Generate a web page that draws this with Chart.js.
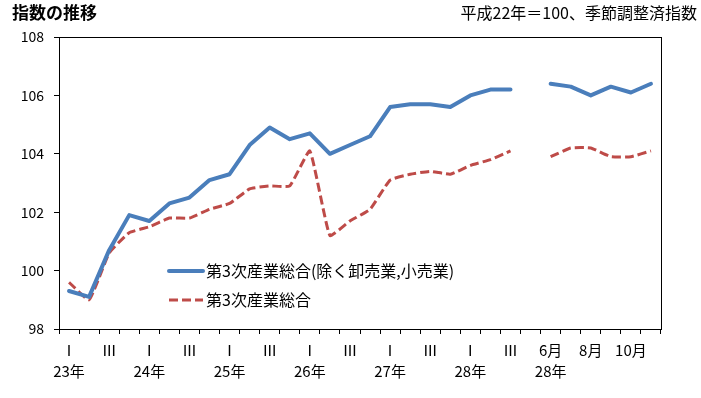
<!DOCTYPE html>
<html>
<head>
<meta charset="utf-8">
<script src="https://cdn.jsdelivr.net/npm/chart.js@4"></script>
<style>
  body { margin: 0; background: #fff; }
  #wrap { width: 701px; height: 398px; position: relative; }
</style>
</head>
<body>
<div id="wrap"><canvas id="line-chart"></canvas></div>
<script>
// categories: quarters 23年Ⅰ-28年Ⅲ, a blank slot, then months 28年6月-11月
var categories = [
    "23年Ⅰ","23年Ⅱ","23年Ⅲ","23年Ⅳ",
    "24年Ⅰ","24年Ⅱ","24年Ⅲ","24年Ⅳ",
    "25年Ⅰ","25年Ⅱ","25年Ⅲ","25年Ⅳ",
    "26年Ⅰ","26年Ⅱ","26年Ⅲ","26年Ⅳ",
    "27年Ⅰ","27年Ⅱ","27年Ⅲ","27年Ⅳ",
    "28年Ⅰ","28年Ⅱ","28年Ⅲ","",
    "28年6月","28年7月","28年8月","28年9月","28年10月","28年11月"
];
var tickLabels = [
    ["Ⅰ","23年"], "", "Ⅲ", "",
    ["Ⅰ","24年"], "", "Ⅲ", "",
    ["Ⅰ","25年"], "", "Ⅲ", "",
    ["Ⅰ","26年"], "", "Ⅲ", "",
    ["Ⅰ","27年"], "", "Ⅲ", "",
    ["Ⅰ","28年"], "", "Ⅲ", "",
    ["6月","28年"], "", "8月", "", "10月", ""
];
var tertiaryExWholesale = [99.3, 99.1, 100.7, 101.9, 101.7, 102.3, 102.5, 103.1, 103.3, 104.3,
    104.9, 104.5, 104.7, 104.0, 104.3, 104.6, 105.6, 105.7, 105.7, 105.6,
    106.0, 106.2, 106.2, null, 106.4, 106.3, 106.0, 106.3, 106.1, 106.4];
var tertiaryAll = [99.6, 99.0, 100.6, 101.3, 101.5, 101.8, 101.8, 102.1, 102.3, 102.8,
    102.9, 102.9, 104.1, 101.2, 101.7, 102.1, 103.1, 103.3, 103.4, 103.3,
    103.6, 103.8, 104.1, null, 103.9, 104.2, 104.2, 103.9, 103.9, 104.1];
var yTicks = [98, 100, 102, 104, 106, 108];

var FONT = "'Noto Sans CJK JP', 'Noto Sans', sans-serif";

// box round the plot area, titles, legend inside the plot
var decor = {
    id: "decor",
    beforeDatasetsDraw: function(chart) {
        var ctx = chart.ctx, a = chart.chartArea;
        ctx.save();
        ctx.strokeStyle = "#000";
        ctx.lineWidth = 1;
        ctx.strokeRect(Math.round(a.left) + 0.5, Math.round(a.top) + 0.5,
            Math.round(a.right - a.left), Math.round(a.bottom - a.top));
        ctx.restore();
    },
    afterDraw: function(chart) {
        var ctx = chart.ctx;
        ctx.save();
        ctx.fillStyle = "#000";
        ctx.textBaseline = "middle";
        ctx.font = "bold 17px " + FONT;
        ctx.textAlign = "left";
        ctx.fillText("指数の推移", 12, 13);
        ctx.font = "16px " + FONT;
        ctx.textAlign = "right";
        ctx.fillText("平成22年＝100、季節調整済指数", 697, 13);

        ctx.font = "16px " + FONT;
        ctx.textAlign = "left";
        chart.data.datasets.forEach(function(ds, i) {
            var y = 271 + i * 29;
            ctx.beginPath();
            ctx.strokeStyle = ds.borderColor;
            ctx.lineWidth = ds.borderWidth;
            ctx.setLineDash(ds.borderDash || []);
            ctx.lineCap = ds.borderDash ? "butt" : "round";
            ctx.moveTo(169, y);
            ctx.lineTo(203, y);
            ctx.stroke();
            ctx.setLineDash([]);
            ctx.fillStyle = "#000";
            ctx.fillText(ds.label, 206, y);
        });
        ctx.restore();
    }
};

new Chart(document.getElementById("line-chart"), {
    type: 'line',
    data: {
        labels: categories,
        datasets: [{
            label: "第3次産業総合(除く卸売業,小売業)",
            data: tertiaryExWholesale,
            borderColor: "#4A7EBB",
            borderWidth: 4,
            borderCapStyle: "round",
            borderJoinStyle: "round",
            pointRadius: 0,
            fill: false,
            tension: 0
        }, {
            label: "第3次産業総合",
            data: tertiaryAll,
            borderColor: "#BE4B48",
            borderWidth: 3,
            borderDash: [9, 4],
            pointRadius: 0,
            fill: false,
            tension: 0.12
        }]
    },
    options: {
        responsive: true,
        maintainAspectRatio: false,
        animation: false,
        spanGaps: false,
        layout: { padding: { top: 37, right: 40, left: 0, bottom: 0 } },
        plugins: {
            legend: { display: false },
            title: { display: false },
            tooltip: { enabled: false }
        },
        scales: {
            x: {
                offset: true,
                grid: { offset: true, drawOnChartArea: false, drawTicks: true, tickLength: 5, color: "#000" },
                border: { color: "#000" },
                ticks: {
                    autoSkip: false,
                    maxRotation: 0,
                    padding: 6,
                    color: "#000",
                    font: { family: FONT, size: 15, lineHeight: 1.4 },
                    callback: function(v, i) { return tickLabels[i]; }
                },
                afterFit: function(s) { s.height = 69; }
            },
            y: {
                min: 98,
                max: 108,
                afterBuildTicks: function(s) { s.ticks = yTicks.map(function(v) { return { value: v }; }); },
                grid: { drawOnChartArea: false, drawTicks: true, tickLength: 5, color: "#000" },
                border: { color: "#000" },
                ticks: {
                    padding: 10,
                    color: "#000",
                    font: { family: FONT, size: 14 }
                },
                afterFit: function(s) { s.width = 59; }
            }
        }
    },
    plugins: [decor]
});
</script>
</body>
</html>
